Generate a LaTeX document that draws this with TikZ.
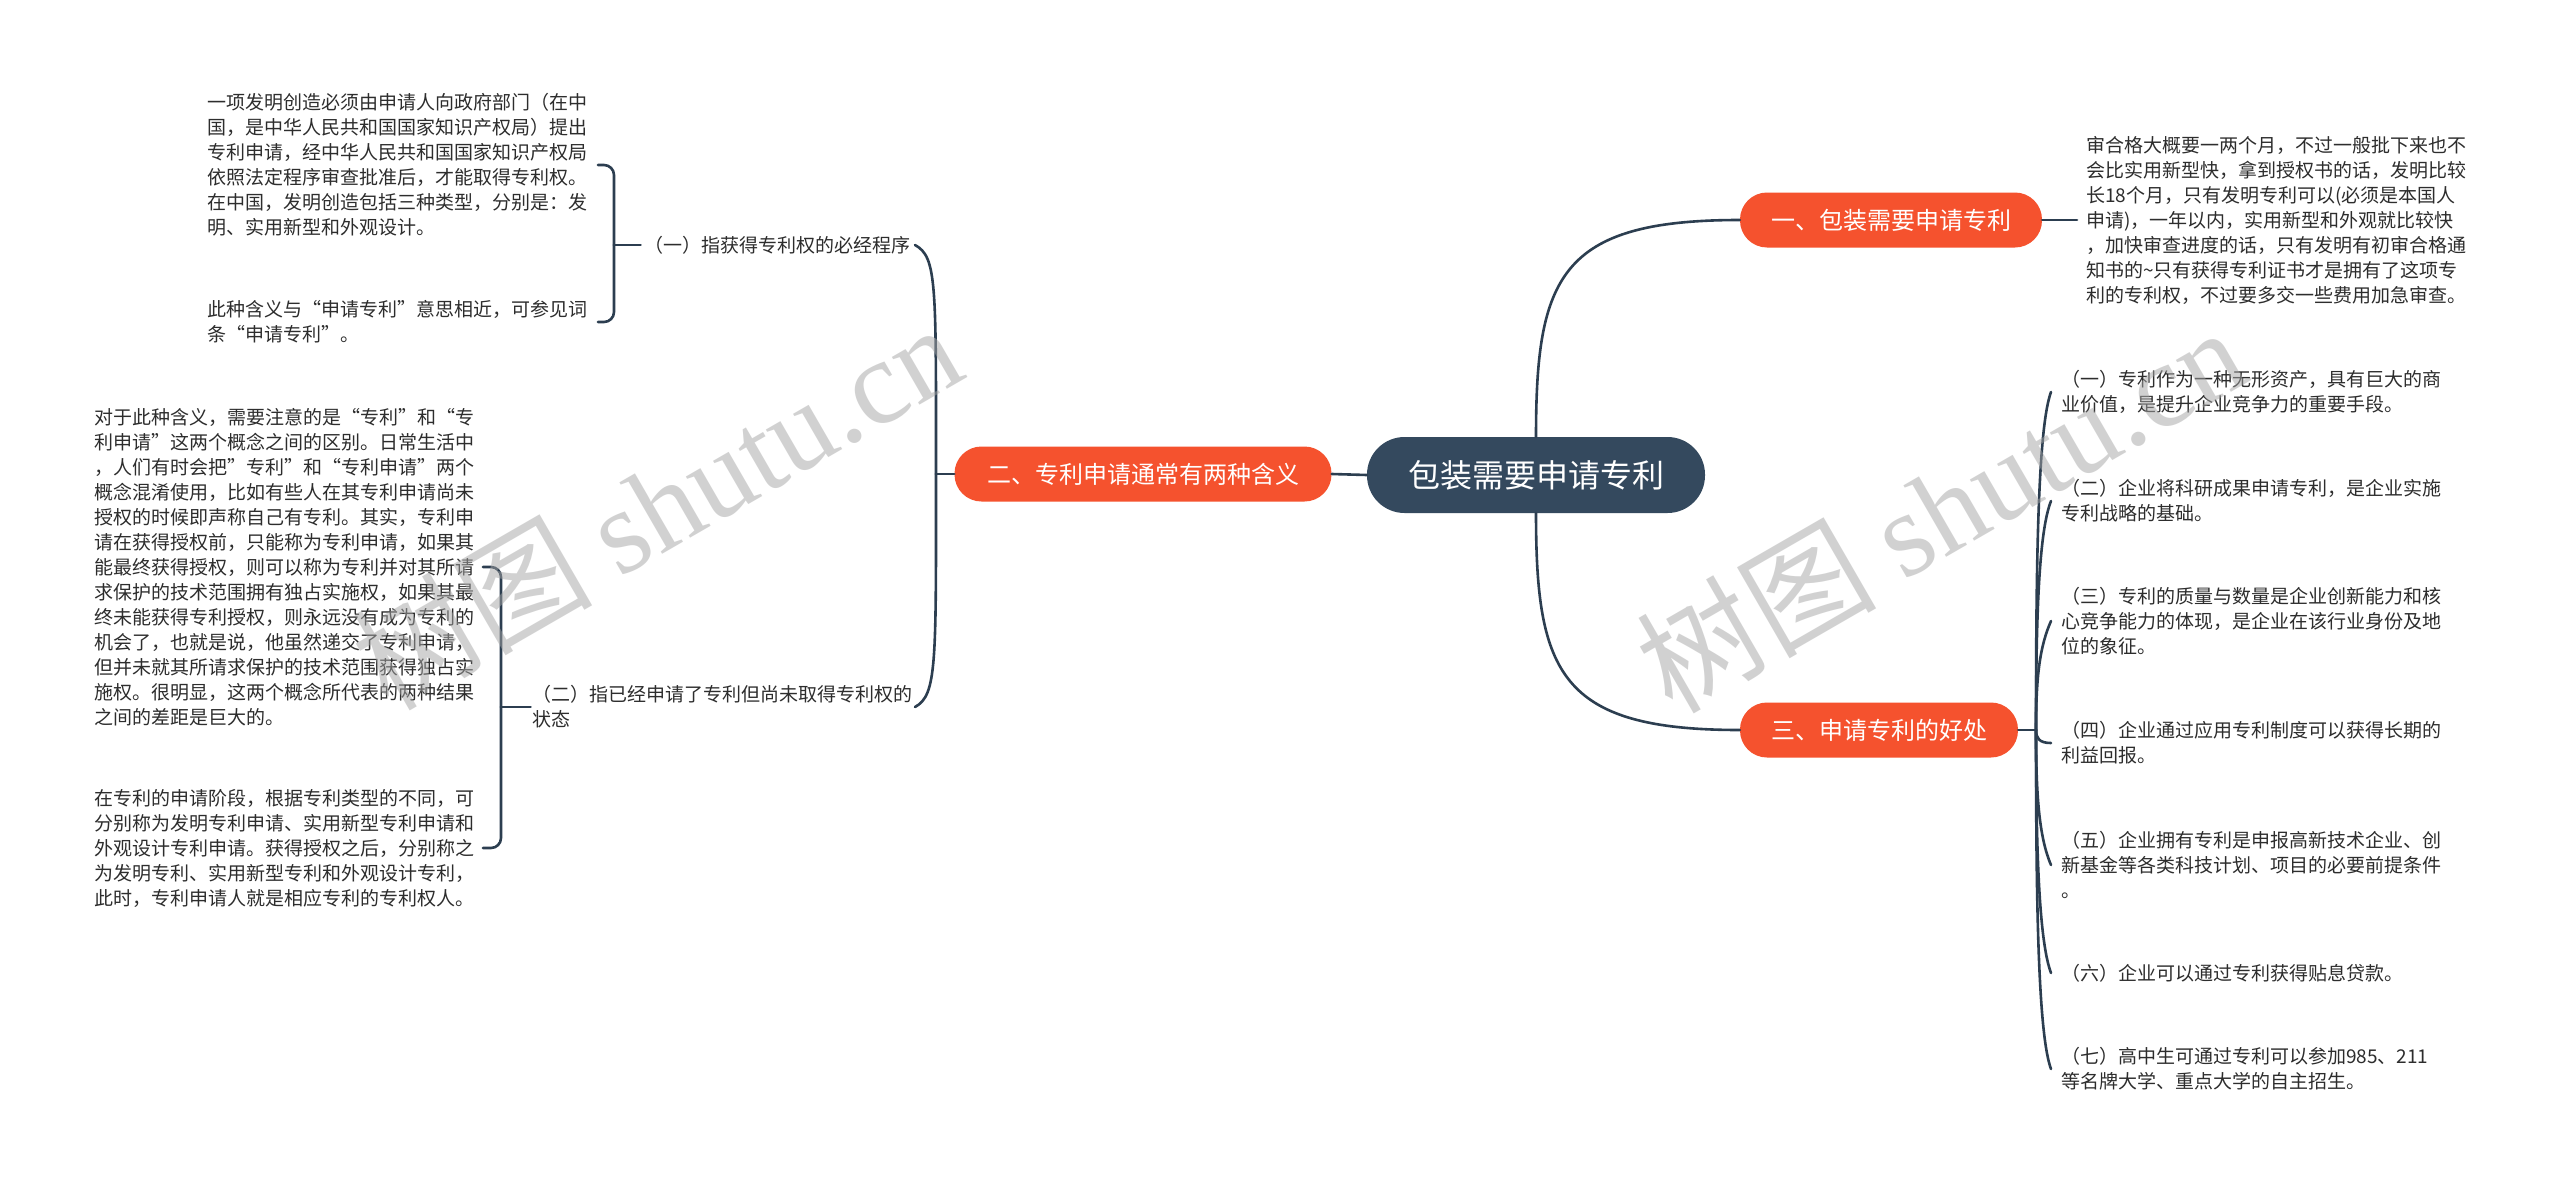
\documentclass[tikz,border=0pt]{standalone}
\usepackage{fontspec}
\setmainfont{Noto Sans CJK SC}
\newfontfamily\wmlatin{Liberation Serif}
\usetikzlibrary{calc}
\definecolor{darkline}{RGB}{44,62,80}
\definecolor{centerfill}{RGB}{52,73,94}
\definecolor{orangefill}{RGB}{245,82,46}
\definecolor{leaftext}{RGB}{45,45,45}
\definecolor{wmgray}{RGB}{165,165,165}
\begin{document}
\begin{tikzpicture}[x=1pt,y=-1pt,
  conn/.style={draw=darkline,line width=2.6pt,line cap=round},
  centernode/.style={fill=centerfill,text=white,rounded corners=37.5pt,minimum width=338pt,minimum height=76pt,inner sep=0pt,font=\fontsize{32}{38}\selectfont},
  branchnode/.style={fill=orangefill,text=white,rounded corners=27pt,minimum height=55pt,inner sep=0pt,font=\fontsize{24}{30}\selectfont},
  leaf/.style={text=leaftext,align=left,inner ysep=0pt,font=\fontsize{19}{25}\selectfont},
  wmark/.style={rotate=30,text=wmgray,text opacity=0.5,inner sep=0pt,font=\fontsize{120}{120}\selectfont}
]
\useasboundingbox (0,0) rectangle (2560,1186);
\fill[white] (0,0) rectangle (2560,1186);

% main nodes
\node[centernode] (C) at (1536,475) {包装需要申请专利};
\node[branchnode,minimum width=302pt] (B1) at (1891,220) {一、包装需要申请专利};
\node[branchnode,minimum width=377pt] (B2) at (1143,474) {二、专利申请通常有两种含义};
\node[branchnode,minimum width=278pt] (B3) at (1879,730) {三、申请专利的好处};

% right top text
\node[leaf,inner xsep=9pt,anchor=west] (R1) at (2077,220) {审合格大概要一两个月，不过一般批下来也不\\会比实用新型快，拿到授权书的话，发明比较\\长18个月，只有发明专利可以(必须是本国人\\申请)，一年以内，实用新型和外观就比较快\\，加快审查进度的话，只有发明有初审合格通\\知书的\textasciitilde 只有获得专利证书才是拥有了这项专\\利的专利权，不过要多交一些费用加急审查。};

% right children of branch 3
\node[leaf,inner xsep=10pt,anchor=west] (S1) at (2051,392) {（一）专利作为一种无形资产，具有巨大的商\\业价值，是提升企业竞争力的重要手段。};
\node[leaf,inner xsep=10pt,anchor=west] (S2) at (2051,501) {（二）企业将科研成果申请专利，是企业实施\\专利战略的基础。};
\node[leaf,inner xsep=10pt,anchor=west] (S3) at (2051,621) {（三）专利的质量与数量是企业创新能力和核\\心竞争能力的体现，是企业在该行业身份及地\\位的象征。};
\node[leaf,inner xsep=10pt,anchor=west] (S4) at (2051,743) {（四）企业通过应用专利制度可以获得长期的\\利益回报。};
\node[leaf,inner xsep=10pt,anchor=west] (S5) at (2051,865) {（五）企业拥有专利是申报高新技术企业、创\\新基金等各类科技计划、项目的必要前提条件\\。};
\node[leaf,inner xsep=10pt,anchor=west] (S6) at (2051,973) {（六）企业可以通过专利获得贴息贷款。};
\node[leaf,inner xsep=10pt,anchor=west] (S7) at (2051,1069) {（七）高中生可通过专利可以参加985、211\\等名牌大学、重点大学的自主招生。};

% left children of branch 2
\node[leaf,inner xsep=4pt,anchor=east] (C1) at (915,245) {（一）指获得专利权的必经程序};
\node[leaf,inner xsep=2pt,anchor=east] (C2) at (915,707) {（二）指已经申请了专利但尚未取得专利权的\\状态};

% left leaves
\node[leaf,inner xsep=10pt,anchor=east] (L1a) at (598,165) {一项发明创造必须由申请人向政府部门（在中\\国，是中华人民共和国国家知识产权局）提出\\专利申请，经中华人民共和国国家知识产权局\\依照法定程序审查批准后，才能取得专利权。\\在中国，发明创造包括三种类型，分别是：发\\明、实用新型和外观设计。};
\node[leaf,inner xsep=10pt,anchor=east] (L1b) at (598,322) {此种含义与“申请专利”意思相近，可参见词\\条“申请专利”。};
\node[leaf,inner xsep=8pt,anchor=east] (L2a) at (483,567) {对于此种含义，需要注意的是“专利”和“专\\利申请”这两个概念之间的区别。日常生活中\\，人们有时会把"专利”和“专利申请”两个\\概念混淆使用，比如有些人在其专利申请尚未\\授权的时候即声称自己有专利。其实，专利申\\请在获得授权前，只能称为专利申请，如果其\\能最终获得授权，则可以称为专利并对其所请\\求保护的技术范围拥有独占实施权，如果其最\\终未能获得专利授权，则永远没有成为专利的\\机会了，也就是说，他虽然递交了专利申请，\\但并未就其所请求保护的技术范围获得独占实\\施权。很明显，这两个概念所代表的两种结果\\之间的差距是巨大的。};
\node[leaf,inner xsep=8pt,anchor=east] (L2b) at (483,848) {在专利的申请阶段，根据专利类型的不同，可\\分别称为发明专利申请、实用新型专利申请和\\外观设计专利申请。获得授权之后，分别称之\\为发明专利、实用新型专利和外观设计专利，\\此时，专利申请人就是相应专利的专利权人。};

% junctions
\coordinate (J1) at (614,245);
\coordinate (J2) at (936,474);
\coordinate (J2b) at (501,707);
\coordinate (J3) at (2036,730);

% connectors: center
\draw[conn] (C.west) -- (B2.east);
\draw[conn] (C.north) .. controls ($(C.north)+(0,-160)$) and ($(B1.west)+(-180,0)$) .. (B1.west);
\draw[conn] (C.south) .. controls ($(C.south)+(0,160)$) and ($(B3.west)+(-180,0)$) .. (B3.west);

% branch 1
\draw[conn] (B1.east) -- (R1.west);

% branch 2
\draw[conn] (B2.west) -- (J2);
\draw[conn] (J2) .. controls ($(J2)+(0,-190)$) and ($(C1.east)+(22,12)$) .. (C1.east);
\draw[conn] (J2) .. controls ($(J2)+(0,190)$) and ($(C2.east)+(22,-12)$) .. (C2.east);
\draw[conn] (C1.west) -- (J1);
\draw[conn,rounded corners=10pt] (J1) |- (L1a.east);
\draw[conn,rounded corners=10pt] (J1) |- (L1b.east);
\draw[conn] (C2.west) -- (J2b);
\draw[conn,rounded corners=10pt] (J2b) |- (L2a.east);
\draw[conn,rounded corners=10pt] (J2b) |- (L2b.east);

% branch 3
\draw[conn] (B3.east) -- (J3);
\draw[conn] (J3) .. controls ($(J3)+(0,-170)$) and ($(S1.west)+(-13,35)$) .. (S1.west);
\draw[conn] (J3) .. controls ($(J3)+(0,-115)$) and ($(S2.west)+(-12,30)$) .. (S2.west);
\draw[conn] (J3) .. controls ($(J3)+(0,-55)$) and ($(S3.west)+(-11,25)$) .. (S3.west);
\draw[conn] (J3) .. controls ($(J3)+(0,8)$) and ($(S4.west)+(-12,0)$) .. (S4.west);
\draw[conn] (J3) .. controls ($(J3)+(0,65)$) and ($(S5.west)+(-12,-28)$) .. (S5.west);
\draw[conn] (J3) .. controls ($(J3)+(0,120)$) and ($(S6.west)+(-12,-32)$) .. (S6.west);
\draw[conn] (J3) .. controls ($(J3)+(0,170)$) and ($(S7.west)+(-13,-35)$) .. (S7.west);

% watermarks
\node[wmark] (WM1) at (656,505) {树图\ {\wmlatin shutu.cn}};
\node[wmark] (WM2) at (1940,508) {树图\ {\wmlatin shutu.cn}};
\end{tikzpicture}
\end{document}
